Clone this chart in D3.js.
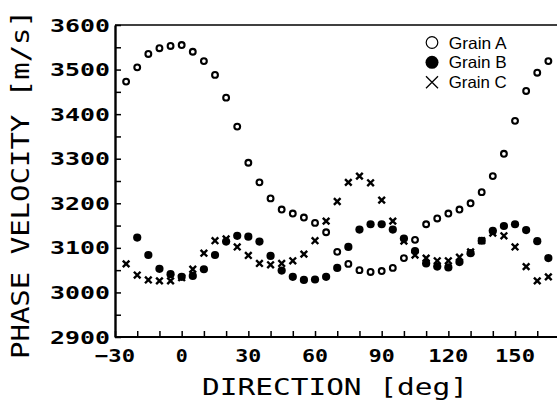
<!DOCTYPE html>
<html><head><meta charset="utf-8">
<script src="https://cdn.jsdelivr.net/npm/d3@7/dist/d3.min.js"></script>
<style>body{margin:0;background:#fff}svg{display:block}</style>
</head><body>
<svg id="c" width="557" height="403"></svg>
<script>
const dirA = [-25,-20,-15,-10,-5,0,5,10,15,20,25,30,35,40,45,50,55,60,65,70,75,80,85,90,95,100,105,110,115,120,125,130,135,140,145,150,155,160,165];
const grainA = [3473,3505,3535,3548,3553,3555,3540,3519,3488,3437,3372,3291,3247,3211,3186,3177,3168,3156,3135,3091,3064,3050,3046,3048,3055,3077,3118,3153,3166,3177,3186,3200,3225,3261,3311,3385,3452,3493,3519];
const dirB = [-20,-15,-10,-5,0,5,10,15,20,25,30,35,40,45,50,55,60,65,70,75,80,85,90,95,100,105,110,115,120,125,130,135,140,145,150,155,160,165];
const grainB = [3123,3084,3053,3041,3035,3037,3052,3084,3114,3127,3125,3114,3082,3049,3035,3028,3029,3035,3055,3102,3141,3153,3153,3141,3121,3093,3065,3058,3056,3068,3088,3116,3138,3149,3153,3140,3115,3077];
const dirC = [-25,-20,-15,-10,-5,0,5,10,15,20,25,30,35,40,45,50,55,60,65,70,75,80,85,90,95,100,105,110,115,120,125,130,135,140,145,150,155,160,165];
const grainC = [3064,3039,3028,3026,3026,3033,3052,3088,3116,3120,3102,3083,3065,3062,3065,3071,3086,3116,3160,3204,3247,3261,3246,3207,3160,3115,3084,3077,3071,3071,3079,3091,3116,3133,3127,3102,3058,3026,3035];
const xTicks = [-30,-20,-10,0,10,20,30,40,50,60,70,80,90,100,110,120,130,140,150,160,170];
const xLabels = [-30,0,30,60,90,120,150];
const yTicks = [2900,2950,3000,3050,3100,3150,3200,3250,3300,3350,3400,3450,3500,3550,3600];
const yLabels = [2900,3000,3100,3200,3300,3400,3500,3600];
const legendNames = ["Grain A","Grain B","Grain C"];

const svg = d3.select("#c");
const x = d3.scaleLinear().domain([-30,180]).range([115,581.7]);
const y = d3.scaleLinear().domain([2900,3600]).range([337,25]);
const mono = "'DejaVu Sans Mono', monospace";

// frame top
svg.append("line").attr("x1",x(-30)).attr("x2",557).attr("y1",y(3600)).attr("y2",y(3600))
  .attr("stroke","#000").attr("stroke-width",1.6);

// x axis
const gx = svg.append("g").attr("transform",`translate(0,${y(2900)})`)
  .call(d3.axisBottom(x).tickValues(xTicks).tickSizeInner(-6).tickSizeOuter(0).tickFormat(""));
gx.select(".domain").attr("stroke-width",2.2).attr("d",`M${x(-30)},0H557`);
gx.selectAll(".tick line").attr("stroke-width",1.5);
svg.append("g").selectAll("text").data(xLabels).join("text")
  .attr("x",d=>x(d)).attr("y",362)
  .attr("text-anchor","middle")
  .attr("font-family",mono).attr("font-weight","bold").attr("font-size",18)
  .attr("textLength",d=>String(d).length*14-2).attr("lengthAdjust","spacingAndGlyphs")
  .text(d=>String(d).replace("-","\u2212"));

// y axis
const gy = svg.append("g").attr("transform",`translate(${x(-30)},0)`)
  .call(d3.axisLeft(y).tickValues(yTicks).tickSizeInner(-6).tickSizeOuter(0).tickFormat(""));
gy.select(".domain").attr("stroke-width",2.4);
gy.selectAll(".tick line").attr("stroke-width",1.5);
svg.append("g").selectAll("text").data(yLabels).join("text")
  .attr("x",110).attr("y",d=>y(d)+6.5)
  .attr("text-anchor","end")
  .attr("font-family",mono).attr("font-weight","bold").attr("font-size",18)
  .attr("textLength",60).attr("lengthAdjust","spacingAndGlyphs")
  .text(d=>d);

// titles
svg.append("text").attr("x",335).attr("y",395).attr("text-anchor","middle")
  .attr("font-family",mono).attr("font-size",23)
  .attr("textLength",266).attr("lengthAdjust","spacingAndGlyphs")
  .text("DIRECTION [deg]");
svg.append("text").attr("transform","translate(29,184.5) rotate(-90)").attr("text-anchor","middle")
  .attr("font-family",mono).attr("font-size",24)
  .attr("textLength",349).attr("lengthAdjust","spacingAndGlyphs")
  .text("PHASE VELOCITY [m/s]");

// data
const crossPath = s => `M${-s},${-s}L${s},${s}M${-s},${s}L${s},${-s}`;
svg.append("g").selectAll("path").data(dirC.map((d,i)=>[d,grainC[i]])).join("path")
  .attr("transform",d=>`translate(${x(d[0])},${y(d[1])})`)
  .attr("d",crossPath(3.3)).attr("stroke","#000").attr("stroke-width",2.4).attr("fill","none");
svg.append("g").selectAll("circle").data(dirB.map((d,i)=>[d,grainB[i]])).join("circle")
  .attr("cx",d=>x(d[0])).attr("cy",d=>y(d[1])).attr("r",4.1).attr("fill","#000");
svg.append("g").selectAll("circle").data(dirA.map((d,i)=>[d,grainA[i]])).join("circle")
  .attr("cx",d=>x(d[0])).attr("cy",d=>y(d[1])).attr("r",2.9)
  .attr("fill","#fff").attr("stroke","#000").attr("stroke-width",2.1);

// legend
const lg = svg.append("g");
const ly = [42.5, 62.3, 82.3];
lg.append("circle").attr("cx",432).attr("cy",ly[0]).attr("r",5.8).attr("fill","#fff").attr("stroke","#000").attr("stroke-width",1.2);
lg.append("circle").attr("cx",432).attr("cy",ly[1]).attr("r",6.5).attr("fill","#000");
lg.append("path").attr("transform",`translate(432,${ly[2]})`).attr("d",crossPath(6)).attr("stroke","#000").attr("stroke-width",1.3);
lg.selectAll("text").data(legendNames).join("text")
  .attr("x",448.7).attr("y",(d,i)=>ly[i]+6)
  .attr("font-family","'Liberation Sans', Arial, sans-serif").attr("font-size",16.5)
  .attr("textLength",58).attr("lengthAdjust","spacingAndGlyphs")
  .text(d=>d);
</script>
</body></html>
